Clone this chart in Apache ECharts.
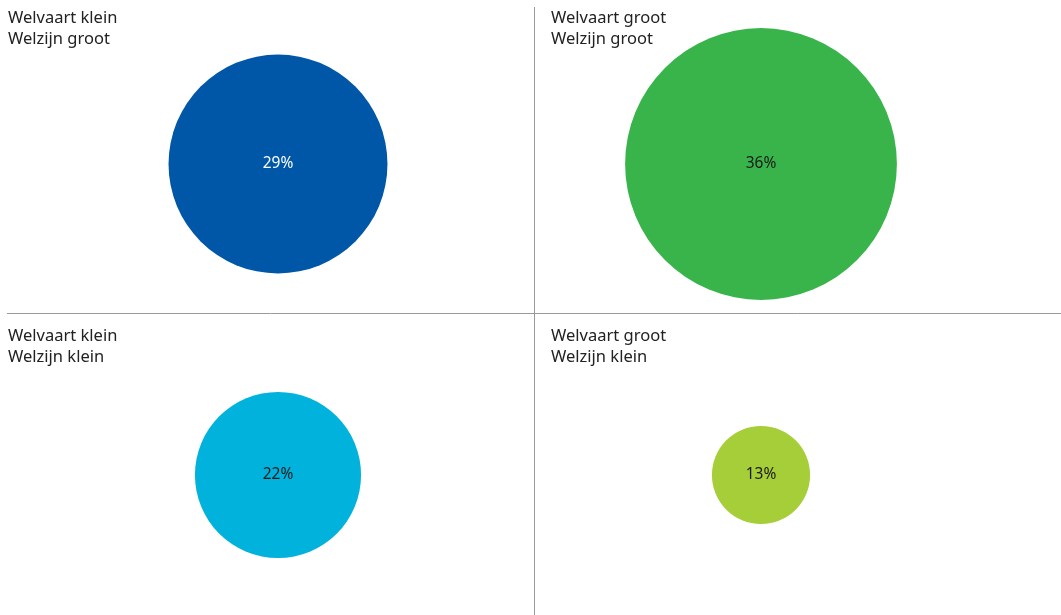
<!DOCTYPE html>
<html>
<head>
<meta charset="utf-8">
<script src="https://cdn.jsdelivr.net/npm/echarts@6/dist/echarts.min.js"></script>
<style>html,body{margin:0;padding:0;background:#fff}#c{width:1061px;height:615px}</style>
</head>
<body>
<div id="c"></div>
<script>
var welvaart = ['Welvaart klein', 'Welvaart groot'];
var welzijn = ['Welzijn klein', 'Welzijn groot'];
var values = [
  ['Welvaart klein', 'Welzijn groot', 29],
  ['Welvaart groot', 'Welzijn groot', 36],
  ['Welvaart klein', 'Welzijn klein', 22],
  ['Welvaart groot', 'Welzijn klein', 13]
];
var colors = ['#0057A8', '#38B44A', '#00B2DC', '#A6CE39'];
var labelColors = ['#ffffff', '#1a1a1a', '#1a1a1a', '#1a1a1a'];

var FONT = '"Noto Sans"';
var chart = echarts.init(document.getElementById('c'));
function txt(left, top, s) {
  return {type: 'text', left: left, top: top, style: {text: s, fill: '#222', font: '16.5px ' + FONT, lineHeight: 21}};
}
chart.setOption({
  animation: false,
  grid: {left: 278, width: 483, top: 164, height: 311},
  xAxis: {type: 'category', data: welvaart, boundaryGap: false, show: false},
  yAxis: {type: 'category', data: welzijn, boundaryGap: false, show: false},
  graphic: [
    {type: 'line', shape: {x1: 534.5, y1: 7, x2: 534.5, y2: 615}, style: {stroke: '#9a9a9a', lineWidth: 1}, silent: true},
    {type: 'line', shape: {x1: 7, y1: 313.5, x2: 1061, y2: 313.5}, style: {stroke: '#9a9a9a', lineWidth: 1}, silent: true},
    txt(8, 8, welvaart[0] + '\n' + welzijn[1]),
    txt(551, 8, welvaart[1] + '\n' + welzijn[1]),
    txt(8, 326, welvaart[0] + '\n' + welzijn[0]),
    txt(551, 326, welvaart[1] + '\n' + welzijn[0])
  ],
  series: [{
    type: 'scatter',
    symbol: 'circle',
    clip: false,
    data: values.map(function (v, i) {
      return {
        value: v,
        itemStyle: {color: colors[i], opacity: 1},
        label: {color: labelColors[i]}
      };
    }),
    symbolSize: function (v) { return v[2] * 7.55; },
    label: {
      show: true,
      position: 'inside',
      fontFamily: FONT,
      fontSize: 15.5,
      formatter: function (p) { return p.value[2] + '%'; }
    },
    emphasis: {disabled: true}
  }]
});
</script>
</body>
</html>
